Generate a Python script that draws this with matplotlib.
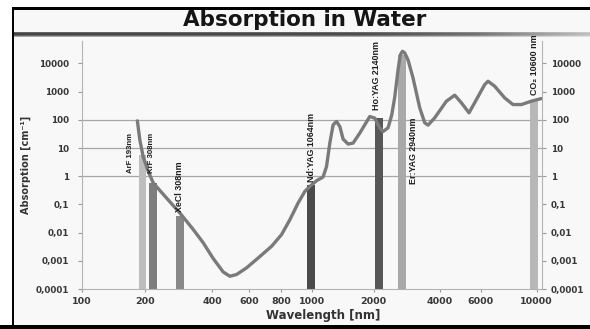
import numpy as np
import matplotlib
matplotlib.use('Agg')
import matplotlib.pyplot as plt
from matplotlib.patches import Rectangle
from matplotlib.ticker import FixedLocator, FixedFormatter, NullLocator
from matplotlib.transforms import ScaledTranslation

# absorption curve of water
wavelength = [184, 189, 196, 207, 218, 250, 287, 330, 366, 406,
              453, 487, 524, 585, 653, 736, 804, 854, 906, 951,
              986, 1054, 1134, 1179, 1223, 1269, 1318, 1368, 1419, 1501,
              1587, 1710, 1912, 2021, 2130, 2205, 2324, 2416, 2494, 2581,
              2642, 2704, 2770, 2867, 3021, 3242, 3417, 3538, 3795, 4274,
              4640, 4958, 5345, 5751, 6223, 6414, 6816, 7468, 8056, 8699,
              9529, 10436]
absorption = [92, 19.6, 5.0, 1.48, 0.575, 0.169, 0.0498, 0.0128, 0.0043, 0.0012,
              0.0004, 0.000284, 0.000326, 0.000563, 0.00127, 0.00327, 0.0085, 0.0288, 0.1125, 0.29,
              0.435, 0.693, 0.937, 2.22, 15.0, 66.5, 87.1, 57.9, 20.7, 13.8,
              15.0, 33.8, 131, 115, 50.8, 38.5, 52.1, 150, 652, 5890,
              20000, 27000, 23500, 13300, 3070, 266, 78.3, 64.9, 118, 459,
              749, 400, 177, 523, 1778, 2344, 1560, 601, 348, 348,
              459, 568]

# laser lines
laser_names = ['ArF 193nm', 'KrF 308nm', 'XeCl 308nm', 'Nd:YAG 1064nm',
               'Ho:YAG 2140nm', 'Er:YAG 2940nm', 'CO\u2082 10600 nm']
laser_nm = [194, 217, 288, 1000, 2110, 2700, 9780]
laser_band = [14.5, 18, 24, 69, 177, 239, 677]
laser_top = [5.8, 0.58, 0.038, 0.5, 115, 20000, 460]

x_ticks = [100, 200, 400, 600, 800, 1000, 2000, 4000, 6000, 10000]
x_labels = ['100', '200', '400', '600', '800', '1000', '2000', '4000', '6000', '10000']
y_ticks = [1e-4, 1e-3, 1e-2, 1e-1, 1, 10, 100, 1000, 10000]
y_labels = ['0,0001', '0,001', '0,01', '0,1', '1', '10', '100', '1000', '10000']
grid_levels = [1, 10, 100]

# styling / layout
laser_colors = ['#bdbdbd', '#7e7e7e', '#888888', '#4b4b4b', '#575757', '#a9a9a9', '#b7b7b7']
label_x = [170, 213, 286, 996, 2053, 3045, 9820]
label_y = [1.33, 1.33, 0.0554, 0.638, 226, 118, 767]
label_va = ['bottom', 'bottom', 'bottom', 'bottom', 'bottom', 'top', 'bottom']
label_size = [5.6, 5.6, 6.4, 6.4, 6.4, 6.4, 6.4]

# the printed wavelength axis is only roughly logarithmic
axis_nm = np.array([100, 200, 400, 600, 800, 1000, 2000, 4000, 6000, 10000, 20000])
axis_px = np.array([82, 145, 212, 249, 281, 312, 374, 440, 481, 537, 613], dtype=float)


def fwd(x):
    x = np.clip(np.asarray(x, dtype=float), 1e-9, None)
    return np.interp(np.log10(x), np.log10(axis_nm), axis_px)


def inv(v):
    return 10 ** np.interp(np.asarray(v, dtype=float), axis_px, np.log10(axis_nm))


W, H = 590, 329
plt.rcParams['font.family'] = ['DejaVu Sans']
plt.rcParams['font.weight'] = 'bold'

fig = plt.figure(figsize=(W / 100, H / 100), dpi=100, facecolor='#f8f8f8')


def px_rect(x0, y0, x1, y1, color):
    fig.add_artist(Rectangle((x0 / W, 1 - y1 / H), (x1 - x0) / W, (y1 - y0) / H,
                             transform=fig.transFigure, color=color, lw=0))


# scan border
px_rect(0, 0, W, 7, 'white')
px_rect(0, 0, 11.5, H, 'white')
px_rect(11.5, 7, W, 9.5, 'black')
px_rect(11.5, 7, 14, H, 'black')
px_rect(0, 325, W, H, 'black')

# shaded rule under the title
gax = fig.add_axes([14 / W, 1 - 37.5 / H, (W - 14) / W, 5.5 / H])
shade = np.interp(np.linspace(0, 1, 400), [0, 0.6, 0.8, 1.0], [0.24, 0.27, 0.42, 0.74])
profile = np.array([0.45, 0.9, 1.0, 0.9, 0.45])[:, None]
gax.imshow(1 - (1 - shade[None, :]) * profile, cmap='gray', vmin=0, vmax=1,
           aspect='auto', interpolation='bilinear')
gax.axis('off')

fig.text(305 / W, 1 - 26.5 / H, 'Absorption in Water', ha='center', va='baseline',
         fontsize=15.5, fontweight='bold', color='#151515')

ax = fig.add_axes([82 / W, 1 - 289 / H, (542 - 82) / W, (289 - 41.5) / H])
ax.set_facecolor('none')
ax.set_xscale('function', functions=(fwd, inv))
ax.set_yscale('log')
ax.set_xlim(100, 10500)
ax.set_ylim(1e-4, 6e4)

for v in grid_levels:
    ax.axhline(v, color='#a6a6a6', lw=0.9, zorder=1)

ax.bar(laser_nm, [t - 1e-4 for t in laser_top], width=laser_band, bottom=1e-4,
       color=laser_colors, lw=0, zorder=2)

ax.plot(wavelength, absorption, color='#7a7a7a', lw=2.4,
        solid_joinstyle='round', solid_capstyle='round', zorder=4)

for name, x, y, va, fs in zip(laser_names, label_x, label_y, label_va, label_size):
    ax.text(x, y, name, rotation=90, ha='center', va=va, fontsize=fs,
            fontweight='bold', color='#1e1e1e', zorder=5,
            family=['Liberation Sans', 'DejaVu Sans'])

ax.xaxis.set_major_locator(FixedLocator(x_ticks))
ax.xaxis.set_major_formatter(FixedFormatter(x_labels))
ax.xaxis.set_minor_locator(NullLocator())
ax.yaxis.set_major_locator(FixedLocator(y_ticks))
ax.yaxis.set_major_formatter(FixedFormatter(y_labels))
ax.yaxis.set_minor_locator(NullLocator())

ax.tick_params(axis='y', left=True, right=True, labelleft=True, labelright=True,
               length=3.2, width=0.8, color='#9a9a9a', pad=3,
               labelsize=6.3, labelcolor='#383838')
ax.tick_params(axis='x', length=2.5, width=0.8, color='#9a9a9a', pad=3,
               labelsize=6.8, labelcolor='#383838')

# left labels sit a little further from their ticks than the right ones
shift = ScaledTranslation(-4 / 100, 0, fig.dpi_scale_trans)
for tick in ax.yaxis.get_major_ticks():
    tick.label1.set_transform(tick.label1.get_transform() + shift)

for side in ['left', 'right', 'bottom']:
    ax.spines[side].set_color('#b3b3b3')
    ax.spines[side].set_linewidth(0.8)
ax.spines['top'].set_visible(False)

fig.text(323 / W, 1 - 315 / H, 'Wavelength [nm]', ha='center', va='center',
         fontsize=8.5, fontweight='bold', color='#333333')
fig.text(26 / W, 1 - 165 / H, 'Absorption [cm\u207b\u00b9]', ha='center', va='center',
         rotation=90, fontsize=7, fontweight='bold', color='#333333')

fig.savefig('out.png', dpi=100, facecolor=fig.get_facecolor())
